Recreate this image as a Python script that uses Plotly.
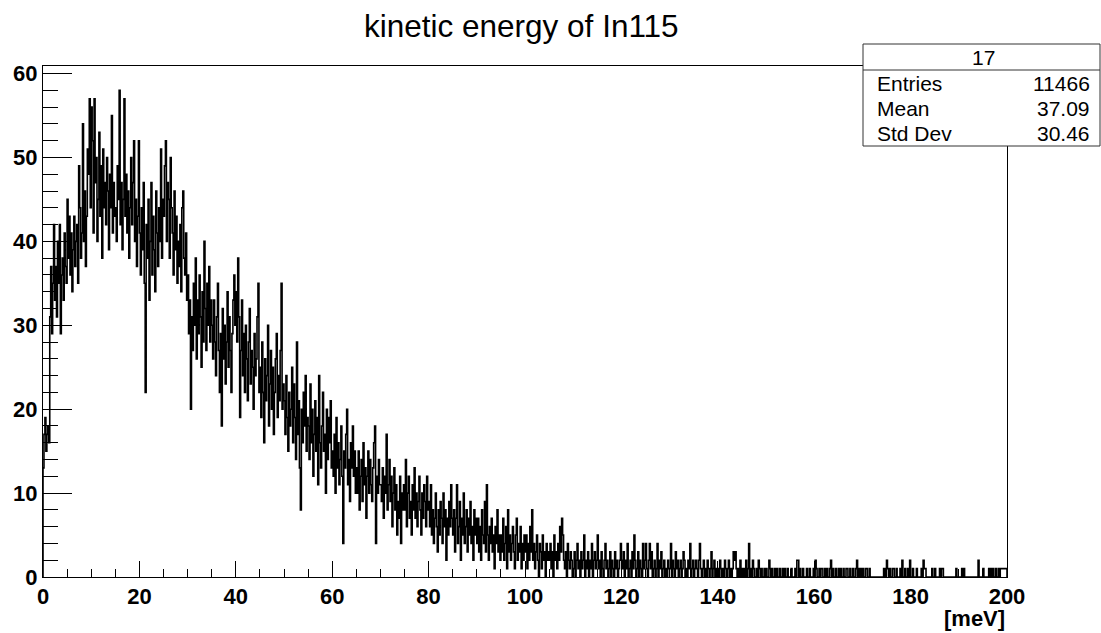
import numpy as np
import plotly.graph_objects as go

# ---------------- data ----------------
title_text = "kinetic energy of In115"
x_axis_title = "[meV]"
stats_name = "17"
stats_labels = ["Entries", "Mean", "Std Dev"]
stats_values = ["11466", "37.09", "30.46"]

x_min, x_max = 0.0, 200.0
y_max = 60.9
x_major_step, x_minor_step = 20, 5
y_major_step, y_minor_step = 10, 2

# bin contents, 1000 bins of 0.2 meV
counts_0_50 = [
    13,17,19,15,17,18,16,31,37,29,35,42,33,37,31,40,35,42,29,36,38,33,41,37,35,
    45,38,43,36,41,34,39,43,37,40,42,35,49,44,38,41,54,40,46,37,43,51,48,57,44,
    56,52,41,57,47,50,40,45,53,43,49,38,51,44,47,42,50,46,39,48,44,55,41,47,43,
    44,40,49,45,58,42,47,39,45,57,43,48,41,46,38,44,50,42,47,52,40,45,37,43,52,
    41,36,44,39,47,35,22,42,38,45,33,40,47,36,43,39,34,46,41,37,44,40,51,38,45,
    43,49,52,40,47,45,38,50,44,41,36,46,39,43,35,40,37,42,34,44,46,38,36,41,33,
    36,29,33,20,31,27,35,30,38,26,33,29,36,31,25,34,28,40,32,27,35,30,37,28,33,
    30,26,33,28,24,31,35,27,22,29,18,32,26,30,23,28,34,25,31,27,22,29,33,36,30,
    34,28,38,31,19,27,33,24,29,22,30,26,21,28,32,23,27,25,20,29,24,26,31,35,22,
    25,19,28,22,16,26,21,24,30,18,23,27,20,25,17,22,26,29,19,24,21,27,35,20,23,
]
counts_50_100 = [
    21,17,24,19,15,22,18,20,25,16,23,19,14,28,17,21,13,8,20,16,22,18,24,15,19,
    18,14,23,16,20,12,17,21,15,19,11,24,16,13,18,22,15,17,10,20,14,19,16,21,13,
    15,12,17,10,19,13,16,11,14,18,12,4,15,13,17,20,11,14,9,16,13,18,12,15,10,
    13,10,15,8,12,14,9,16,11,13,7,12,15,10,14,11,9,13,16,18,4,12,10,14,11,
    11,9,13,7,12,10,17,8,11,14,9,12,6,10,13,8,11,5,9,7,12,4,10,8,11,
    8,14,6,10,12,7,9,5,11,8,13,7,10,6,9,12,8,5,10,7,11,9,6,12,8,
    9,6,11,5,8,4,7,10,6,3,8,5,9,7,4,10,6,8,2,7,5,9,6,11,7,
    5,8,3,7,11,4,6,9,2,7,5,10,4,6,8,3,7,5,9,4,6,2,8,5,7,
    4,7,3,6,2,8,5,4,9,3,11,5,2,6,4,7,3,5,1,6,4,8,3,5,2,
    5,3,7,2,4,6,1,8,3,5,2,4,6,3,1,5,7,2,4,3,6,1,4,2,5,
]
counts_100_150 = [
    3,5,1,4,2,6,3,8,2,4,1,3,5,2,0,4,3,1,5,2,3,0,4,2,3,
    2,4,1,3,0,5,2,3,1,4,2,6,3,7,5,2,1,3,0,4,2,1,3,2,0,
    1,3,0,2,4,1,2,0,3,1,2,5,0,2,1,3,0,2,1,4,0,2,3,1,2,
    5,1,2,0,3,1,0,2,4,1,2,0,1,3,0,2,1,0,3,1,2,0,1,2,4,
    2,1,3,0,2,1,4,0,1,2,0,3,1,5,2,0,1,3,0,2,1,0,4,1,2,
    4,1,0,2,4,1,3,0,1,2,0,1,4,0,2,1,3,0,1,2,0,1,0,2,1,
    1,4,0,2,1,0,3,1,2,0,1,2,0,1,3,2,0,1,0,2,1,4,0,1,2,
    0,1,2,1,0,2,4,1,0,1,2,0,1,0,2,1,0,1,3,0,1,2,0,1,0,
    1,0,2,1,0,1,0,2,1,0,1,2,0,1,0,1,3,2,3,1,0,1,0,2,0,
    1,0,1,0,2,0,1,4,0,1,0,2,1,0,0,1,0,2,1,0,1,0,0,1,0,
]
counts_150_200 = [
    1,0,0,2,1,0,1,0,0,1,0,1,0,0,1,0,0,1,0,1,0,0,1,0,0,
    0,1,0,0,0,1,0,2,2,0,1,0,0,1,0,0,0,1,0,0,1,0,0,0,1,
    0,2,1,0,0,1,0,1,1,0,0,1,0,1,0,0,1,2,0,1,0,0,1,0,0,
    1,0,1,0,0,1,0,0,1,1,0,0,1,0,0,1,0,0,1,2,0,1,0,1,0,
    1,0,0,1,1,0,0,1,0,0,0,0,0,0,0,0,0,0,0,0,0,0,1,0,1,
    2,1,0,1,0,0,1,1,0,0,1,0,0,0,1,0,2,0,0,1,0,0,1,0,2,
    0,0,1,0,0,0,1,0,0,0,0,1,0,2,1,1,0,0,0,0,0,0,1,0,0,
    1,0,0,0,0,1,0,1,1,0,0,0,0,0,0,0,0,0,0,0,0,0,1,0,0,
    0,0,0,1,0,1,0,0,0,0,0,0,0,0,0,0,0,0,0,0,2,0,0,0,0,
    1,0,0,0,0,0,1,0,1,0,1,0,0,1,0,0,1,0,1,1,1,1,1,1,1,
]

counts = counts_0_50 + counts_50_100 + counts_100_150 + counts_150_200
assert len(counts) == 1000, len(counts)
n_bins = len(counts)
edges = np.linspace(x_min, x_max, n_bins + 1)

# step outline (ROOT "HIST" style)
step_x = [x_min] + list(edges[:-1]) + [x_max, x_max]
step_y = [0] + counts + [counts[-1], 0]

# ---------------- figure ----------------
W, H = 1101, 633
L, R, T, B = 43, 1007, 66, 577   # plot frame in pixels


def px(xp):
    return (xp - L) / (R - L)


def py(yp):
    return (B - yp) / (B - T)


fig = go.Figure()
fig.add_trace(go.Scatter(
    x=step_x, y=step_y, mode="lines", line_shape="hv",
    line=dict(color="black", width=1.6), hoverinfo="skip",
))

tick_font = dict(family="Liberation Sans, Arial, sans-serif", size=22,
                 color="black", weight="bold")

fig.update_layout(
    width=W, height=H,
    margin=dict(l=L, r=W - R, t=T, b=H - B, pad=0),
    plot_bgcolor="white", paper_bgcolor="white",
    showlegend=False,
    xaxis=dict(
        range=[x_min, x_max], tickmode="linear", tick0=0, dtick=x_major_step,
        ticks="inside", ticklen=16, tickwidth=1, tickcolor="black",
        minor=dict(dtick=x_minor_step, ticks="inside", ticklen=8,
                   tickwidth=1, tickcolor="black"),
        showline=True, linecolor="black", linewidth=1, mirror=True,
        showgrid=False, zeroline=False, tickfont=tick_font,
    ),
    yaxis=dict(
        range=[0, y_max], tickmode="linear", tick0=0, dtick=y_major_step,
        ticks="inside", ticklen=29, tickwidth=1, tickcolor="black",
        minor=dict(dtick=y_minor_step, ticks="inside", ticklen=15,
                   tickwidth=1, tickcolor="black"),
        showline=True, linecolor="black", linewidth=1, mirror=True,
        showgrid=False, zeroline=False, tickfont=tick_font,
    ),
)

# title
fig.add_annotation(text=title_text, xref="paper", yref="paper",
                   x=px(521.5), y=py(26), xanchor="center", yanchor="middle",
                   showarrow=False,
                   font=dict(family="Liberation Sans, Arial, sans-serif",
                             size=31.5, color="black"))

# x axis title
fig.add_annotation(text=x_axis_title, xref="paper", yref="paper",
                   x=1, y=0, xanchor="right", yanchor="top", yshift=-27,
                   showarrow=False, font=tick_font)

# stats box
fig.add_shape(type="rect", xref="paper", yref="paper",
              x0=px(863), x1=px(1100), y0=py(146), y1=py(44),
              fillcolor="white", line=dict(color="#333333", width=1),
              layer="above")
fig.add_shape(type="line", xref="paper", yref="paper",
              x0=px(863), x1=px(1100), y0=py(70), y1=py(70),
              line=dict(color="#333333", width=1), layer="above")

stats_font = dict(family="Liberation Sans, Arial, sans-serif", size=21,
                  color="black")
fig.add_annotation(text=stats_name, xref="paper", yref="paper",
                   x=px(983), y=py(57), xanchor="center", yanchor="middle",
                   showarrow=False, font=stats_font)
row_y = [83, 108, 133]
for lab, val, yy in zip(stats_labels, stats_values, row_y):
    fig.add_annotation(text=lab, xref="paper", yref="paper",
                       x=px(875), y=py(yy), xanchor="left", yanchor="middle",
                       showarrow=False, font=stats_font)
    fig.add_annotation(text=val, xref="paper", yref="paper",
                       x=px(1092), y=py(yy), xanchor="right", yanchor="middle",
                       showarrow=False, font=stats_font)

fig.write_html("out.html")
